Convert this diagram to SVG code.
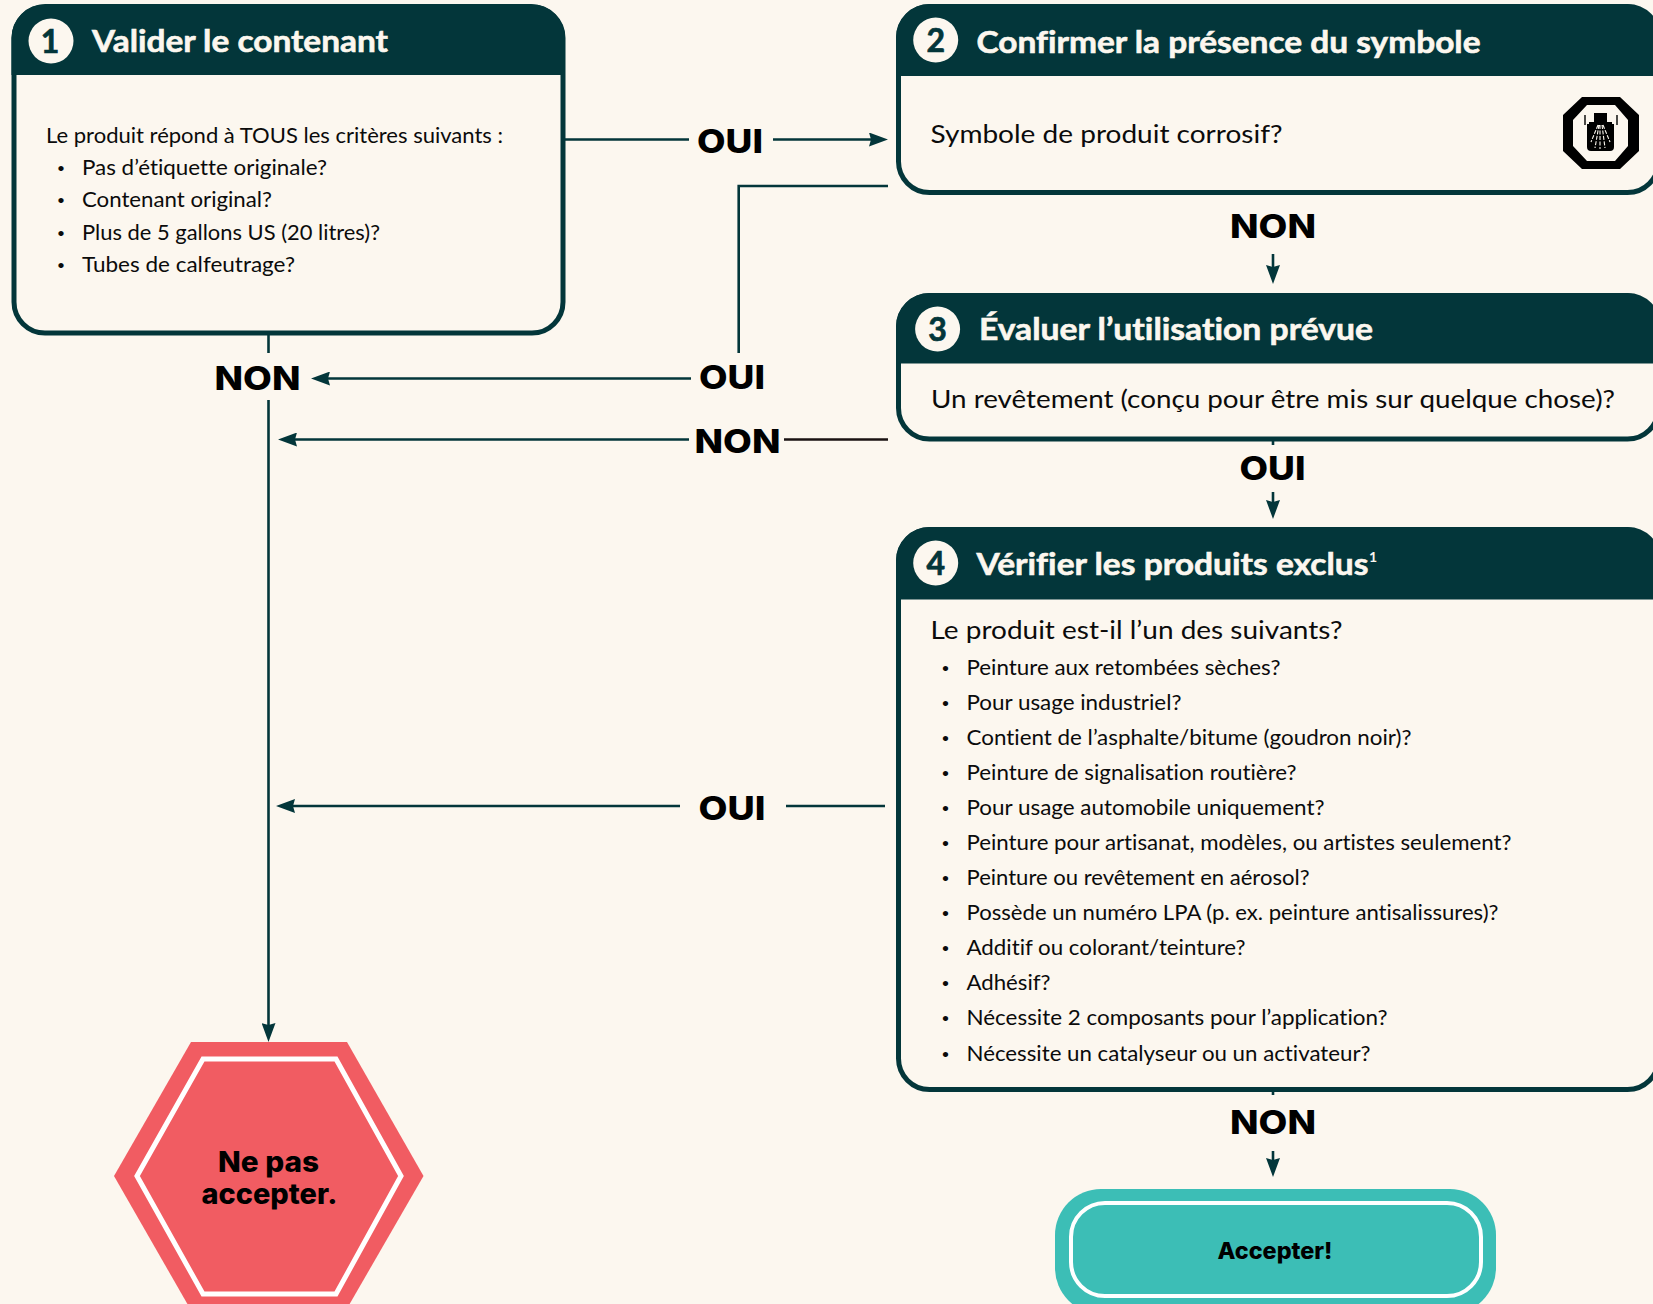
<svg xmlns="http://www.w3.org/2000/svg" width="1653" height="1304" viewBox="0 0 1653 1304">
<style>
text{font-family:"Lato","Liberation Sans",sans-serif;fill:#0b0b0b;font-variant-ligatures:none}
.box{fill:#fcf7ef;stroke:#03363a;stroke-width:5}
.hd{fill:#03363a}
.ci{fill:#fcf7ef}
.n{font-size:32px;font-weight:700;fill:#03363a;text-anchor:middle;stroke:#03363a;stroke-width:.7}
.t{font-size:31px;font-weight:700;fill:#fcf7ef;stroke:#fcf7ef;stroke-width:.6}
.b{font-size:25px;font-weight:400}
.s{font-size:21px;font-weight:400}
.d{font-size:12px;font-weight:700;text-anchor:middle}
.l{font-family:"Inter","Lato",sans-serif;font-size:33px;font-weight:800;fill:#000}
.k{font-family:"Inter","Lato",sans-serif;font-weight:800;text-anchor:middle;fill:#000}
.c{fill:none;stroke:#03363a;stroke-width:2.6}
.a{marker-end:url(#ah)}
</style>
<defs>
<marker id="ah" markerUnits="userSpaceOnUse" markerWidth="20" markerHeight="14" refX="13" refY="7" orient="auto">
<path d="M0,0 L19,7 L0,14 L2,7 z" fill="#03363a"/>
</marker>
</defs>
<rect width="1653" height="1304" fill="#fcf7ef"/>
<g id="connectors">
<path class="c a" d="M565 139.5H689M773 139.5H882"/>
<path class="c" d="M888 186H738.7V353"/>
<path class="c a" d="M691 378.5H317"/>
<path class="c a" d="M689 439.5H284"/>
<path d="M784 439.5H888" fill="none" stroke="#1a1212" stroke-width="2.6"/>
<path class="c" d="M268.5 335V353"/>
<path class="c a" d="M268.5 400V1036"/>
<path class="c a" d="M680 806H282"/>
<path class="c" d="M786 806H885"/>
<path class="c a" d="M1273 254V278"/>
<path class="c" d="M1273 441V445"/>
<path class="c a" d="M1273 492V513"/>
<path class="c" d="M1273 1092V1095"/>
<path class="c a" d="M1273 1151V1171"/>
<text class="l" x="697" y="152.5" textLength="66" lengthAdjust="spacingAndGlyphs">OUI</text>
<text class="l" x="699" y="389" textLength="66" lengthAdjust="spacingAndGlyphs">OUI</text>
<text class="l" x="698.5" y="820" textLength="67" lengthAdjust="spacingAndGlyphs">OUI</text>
<text class="l" x="1239.5" y="480" textLength="66" lengthAdjust="spacingAndGlyphs">OUI</text>
<text class="l" x="214.5" y="389.5" textLength="86" lengthAdjust="spacingAndGlyphs">NON</text>
<text class="l" x="694.5" y="452.5" textLength="86" lengthAdjust="spacingAndGlyphs">NON</text>
<text class="l" x="1230" y="237.5" textLength="86" lengthAdjust="spacingAndGlyphs">NON</text>
<text class="l" x="1230" y="1133.5" textLength="86" lengthAdjust="spacingAndGlyphs">NON</text>
</g>
<g id="node1">
<rect class="box" x="14" y="7" width="549" height="326" rx="31"/>
<path class="hd" d="M11.5 75V38A34 34 0 0 1 45.5 4H531A34 34 0 0 1 565 38V75z"/>
<circle class="ci" cx="51" cy="41" r="22.5"/>
<text class="n" x="50" y="52.5">1</text>
<text class="t" x="92" y="52" textLength="296" lengthAdjust="spacingAndGlyphs">Valider le contenant</text>
<text class="s" x="46" y="143" textLength="457" lengthAdjust="spacingAndGlyphs">Le produit répond à TOUS les critères suivants :</text>
<text class="d" x="61" y="171.5">•</text><text class="s" x="82" y="175" textLength="245" lengthAdjust="spacingAndGlyphs">Pas d’étiquette originale?</text>
<text class="d" x="61" y="203.5">•</text><text class="s" x="82" y="207" textLength="190" lengthAdjust="spacingAndGlyphs">Contenant original?</text>
<text class="d" x="61" y="236.5">•</text><text class="s" x="82" y="240" textLength="298" lengthAdjust="spacingAndGlyphs">Plus de 5 gallons US (20 litres)?</text>
<text class="d" x="61" y="268.5">•</text><text class="s" x="82" y="272" textLength="213" lengthAdjust="spacingAndGlyphs">Tubes de calfeutrage?</text>
</g>
<g id="node2">
<rect class="box" x="898.5" y="6.5" width="760" height="186" rx="31"/>
<path class="hd" d="M896 76V38A34 34 0 0 1 930 4H1625A34 34 0 0 1 1659 38V76z"/>
<circle class="ci" cx="935.7" cy="40" r="22.5"/>
<text class="n" x="935.7" y="51.5">2</text>
<text class="t" x="976.5" y="53" textLength="504" lengthAdjust="spacingAndGlyphs">Confirmer la présence du symbole</text>
<text class="b" x="930.5" y="143" textLength="352" lengthAdjust="spacingAndGlyphs">Symbole de produit corrosif?</text>
<g id="symbol">
<path d="M1582 97H1620L1639 115V151L1620 169H1582L1563 151V115z M1587 105L1573 120V146L1587 161H1615L1628 146V120L1615 105z" fill="#000" fill-rule="evenodd"/>
<path d="M1585 115V125M1617 115V125" stroke="#000" stroke-width="1.4"/>
<path d="M1594 113H1607V122H1612V124H1614V147A4 4 0 0 1 1610 151H1591A4 4 0 0 1 1587 147V124H1589V122H1594z" fill="#000"/>
<path d="M1598 125L1591 142M1599 125L1595 148M1600 125L1600 149M1602 125L1605 148M1603 125L1610 142" stroke="#fcf7ef" stroke-width="1.1" stroke-dasharray="4 1.5" fill="none"/>
</g>
</g>
<g id="node3">
<rect class="box" x="898.5" y="295.5" width="760" height="143.5" rx="31"/>
<path class="hd" d="M896 363.5V327A34 34 0 0 1 930 293H1625A34 34 0 0 1 1659 327V363.5z"/>
<circle class="ci" cx="937.6" cy="329" r="22.5"/>
<text class="n" x="937.6" y="340.5">3</text>
<text class="t" x="979" y="339.5" textLength="394" lengthAdjust="spacingAndGlyphs">Évaluer l’utilisation prévue</text>
<text class="b" x="931" y="407.5" textLength="684" lengthAdjust="spacingAndGlyphs">Un revêtement (conçu pour être mis sur quelque chose)?</text>
</g>
<g id="node4">
<rect class="box" x="898.5" y="529.5" width="760" height="560" rx="31"/>
<path class="hd" d="M896 599.5V561A34 34 0 0 1 930 527H1625A34 34 0 0 1 1659 561V599.5z"/>
<circle class="ci" cx="935.7" cy="563" r="22.5"/>
<text class="n" x="935.7" y="574.5">4</text>
<text class="t" x="976.5" y="575" textLength="392" lengthAdjust="spacingAndGlyphs">Vérifier les produits exclus</text>
<text x="1369" y="562" font-size="14" font-weight="700" style="fill:#fcf7ef">1</text>
<text class="b" x="930.5" y="638.5" textLength="412" lengthAdjust="spacingAndGlyphs">Le produit est-il l’un des suivants?</text>
<text class="d" x="945.5" y="671.5">•</text><text class="s" x="966.5" y="675" textLength="314" lengthAdjust="spacingAndGlyphs">Peinture aux retombées sèches?</text>
<text class="d" x="945.5" y="706.5">•</text><text class="s" x="966.5" y="710" textLength="215" lengthAdjust="spacingAndGlyphs">Pour usage industriel?</text>
<text class="d" x="945.5" y="741.5">•</text><text class="s" x="966.5" y="745" textLength="445" lengthAdjust="spacingAndGlyphs">Contient de l’asphalte/bitume (goudron noir)?</text>
<text class="d" x="945.5" y="776.5">•</text><text class="s" x="966.5" y="780" textLength="330" lengthAdjust="spacingAndGlyphs">Peinture de signalisation routière?</text>
<text class="d" x="945.5" y="811.5">•</text><text class="s" x="966.5" y="815" textLength="358" lengthAdjust="spacingAndGlyphs">Pour usage automobile uniquement?</text>
<text class="d" x="945.5" y="846.5">•</text><text class="s" x="966.5" y="850" textLength="545" lengthAdjust="spacingAndGlyphs">Peinture pour artisanat, modèles, ou artistes seulement?</text>
<text class="d" x="945.5" y="881.5">•</text><text class="s" x="966.5" y="885" textLength="343" lengthAdjust="spacingAndGlyphs">Peinture ou revêtement en aérosol?</text>
<text class="d" x="945.5" y="916.5">•</text><text class="s" x="966.5" y="920" textLength="532" lengthAdjust="spacingAndGlyphs">Possède un numéro LPA (p. ex. peinture antisalissures)?</text>
<text class="d" x="945.5" y="951.5">•</text><text class="s" x="966.5" y="955" textLength="279" lengthAdjust="spacingAndGlyphs">Additif ou colorant/teinture?</text>
<text class="d" x="945.5" y="986.5">•</text><text class="s" x="966.5" y="990" textLength="84" lengthAdjust="spacingAndGlyphs">Adhésif?</text>
<text class="d" x="945.5" y="1021.5">•</text><text class="s" x="966.5" y="1025" textLength="421" lengthAdjust="spacingAndGlyphs">Nécessite 2 composants pour l’application?</text>
<text class="d" x="945.5" y="1057.5">•</text><text class="s" x="966.5" y="1061" textLength="404" lengthAdjust="spacingAndGlyphs">Nécessite un catalyseur ou un activateur?</text>
</g>
<g id="reject">
<path d="M191 1042H347L423.5 1176L345 1312H192L114 1176z" fill="#f15c62"/>
<path d="M203 1059H336L401 1176L336 1294H203L137 1176z" fill="none" stroke="#fff" stroke-width="5"/>
<text class="k" x="268.5" y="1172" font-size="28" textLength="101" lengthAdjust="spacingAndGlyphs">Ne pas</text>
<text class="k" x="269.5" y="1204" font-size="28" textLength="136" lengthAdjust="spacingAndGlyphs">accepter.</text>
</g>
<g id="accept">
<rect x="1055" y="1189" width="441" height="125" rx="46" fill="#3cbeb6"/>
<rect x="1071" y="1203" width="410" height="93" rx="34" fill="none" stroke="#fff" stroke-width="4"/>
<text class="k" x="1275" y="1259" font-size="23" textLength="115" lengthAdjust="spacingAndGlyphs">Accepter!</text>
</g>
</svg>
